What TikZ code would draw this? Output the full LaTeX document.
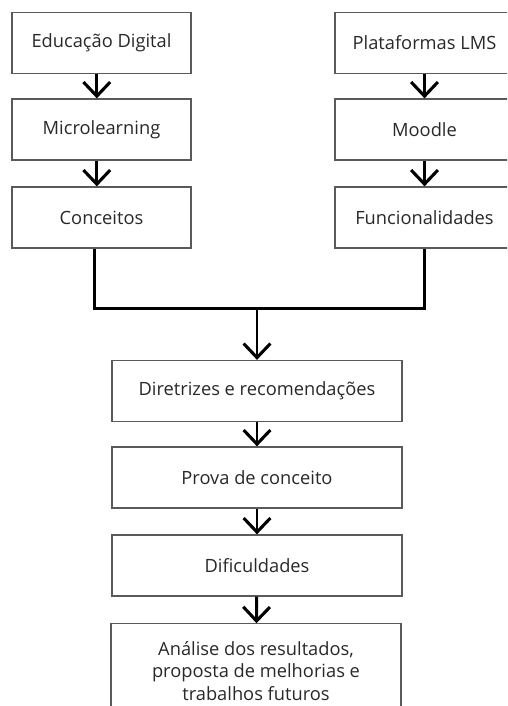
\documentclass[tikz,border=0pt]{standalone}
\usepackage{fontspec}
\setmainfont{Open Sans}
\usepackage{tikz}
\usetikzlibrary{arrows.meta, positioning, calc}
\definecolor{boxline}{RGB}{90, 90, 90}
\definecolor{boxtext}{RGB}{40, 40, 40}
\tikzset{
    stagebox/.style={draw=boxline, rectangle, line width=0.9pt, minimum height=1.525cm, font=\fontsize{13}{16}\selectfont, text=boxtext, align=center, inner sep=0pt},
    sidebox/.style={stagebox, minimum width=4.475cm},
    mainbox/.style={stagebox, minimum width=7.25cm},
    flowarrow/.style={-{Straight Barb[length=10pt, width=19pt, line width=2.2pt]}, line width=2.1pt, black},
    busline/.style={line width=2.2pt, black},
}
\begin{document}
\begin{tikzpicture}
    \clip (0,0) rectangle (12.675,-17.65);
    % left column
    \node[sidebox] (edu) at (2.5375,-1.075) {Educação Digital};
    \node[sidebox] (micro) at (2.5375,-3.2375) {Microlearning};
    \node[sidebox] (conc) at (2.5375,-5.4375) {Conceitos};
    \coordinate (lx) at (2.42,0);

    % right column
    \node[sidebox] (lms) at (10.6125,-1.075) {Plataformas LMS};
    \node[sidebox] (moodle) at (10.6125,-3.2375) {Moodle};
    \node[sidebox] (func) at (10.6125,-5.4375) {Funcionalidades};

    % central flow
    \node[mainbox] (diret) at (6.425,-9.775) {Diretrizes e recomendações};
    \node[mainbox] (prova) at (6.425,-11.9375) {Prova de conceito};
    \node[mainbox] (dific) at (6.425,-14.1375) {Dificuldades};
    \node[mainbox, minimum height=2.35cm, anchor=north] (anal) at (6.4,-15.58) {Análise dos resultados,\\proposta de melhorias e\\trabalhos futuros};

    % arrows
    \draw[flowarrow] (edu.south -| lx) -- (micro.north -| lx);
    \draw[flowarrow] (micro.south -| lx) -- (conc.north -| lx);
    \draw[flowarrow] (lms) -- (moodle);
    \draw[flowarrow] (moodle) -- (func);

    % join both columns
    \coordinate (join) at (6.425,-7.7125);
    \draw[busline] ([xshift=-0.05cm]conc.south -| lx) |- (join) -| (func.south);
    \draw[flowarrow] (join) -- (diret.north);

    \draw[flowarrow] (diret) -- (prova);
    \draw[flowarrow] (prova) -- (dific);
    \draw[flowarrow] (dific) -- (anal);
\end{tikzpicture}
\end{document}
